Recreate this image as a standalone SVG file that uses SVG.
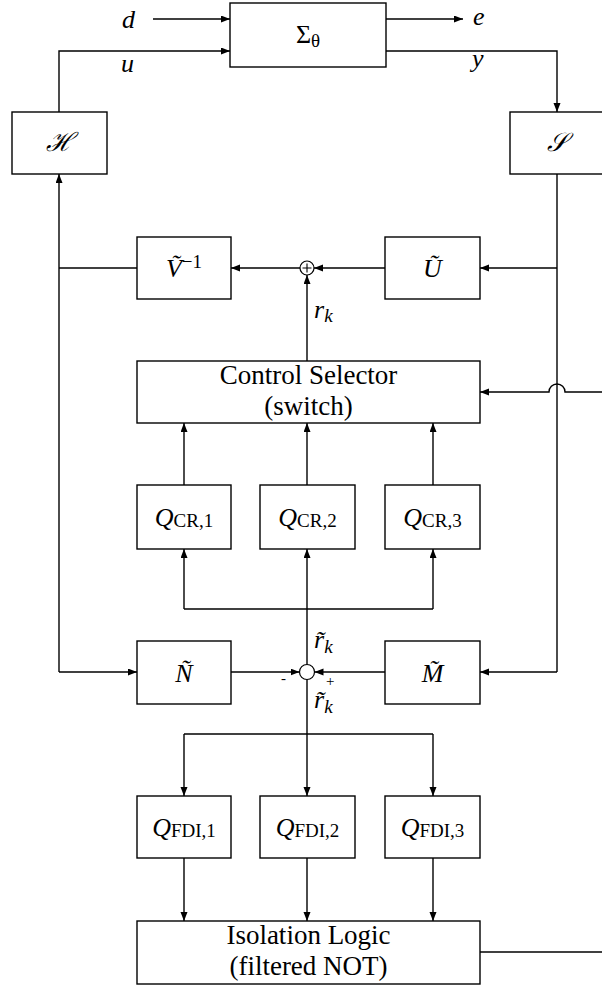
<svg xmlns="http://www.w3.org/2000/svg" width="602" height="987" viewBox="0 0 602 987">
<style>
.box{fill:#fff;stroke:#000;stroke-width:1.4}
.ln{fill:none;stroke:#000;stroke-width:1.4}
.arr{marker-end:url(#ah)}
text{font-family:'Liberation Serif','Times New Roman',serif;fill:#000}
.m{font-size:26px;font-style:italic}
.t{font-size:27px}
.sub{font-size:19px;font-style:normal}
.subi{font-size:19px;font-style:italic}
.sg{font-size:15px}
</style>
<defs>
<marker id="ah" markerUnits="userSpaceOnUse" markerWidth="10" markerHeight="8" refX="9" refY="3.5" orient="auto">
<path d="M0,0 L9,3.5 L0,7 z" fill="#000"/>
</marker>
</defs>
<g id="connectors">
<path class="ln arr" d="M153,19 H230"/>
<path class="ln arr" d="M59,112 V51 H230"/>
<path class="ln arr" d="M386,19 H463"/>
<path class="ln arr" d="M386,51 H557 V112"/>
<path class="ln arr" d="M59,672 V174"/>
<path class="ln arr" d="M59,672 H137"/>
<path class="ln" d="M59,268 H137"/>
<path class="ln arr" d="M300,268 H231"/>
<path class="ln arr" d="M385,268 H314"/>
<path class="ln arr" d="M557,268 H480"/>
<path class="ln arr" d="M307,361 V275"/>
<path class="ln" d="M557,174 V672"/>
<path class="ln arr" d="M557,672 H480"/>
<path class="ln arr" d="M602,392 H565 A8,8 0 0 0 549,392 H480"/>
<path class="ln arr" d="M184,485 V423"/>
<path class="ln arr" d="M307,485 V423"/>
<path class="ln arr" d="M433,485 V423"/>
<path class="ln" d="M184,609 H433"/>
<path class="ln arr" d="M184,609 V549"/>
<path class="ln arr" d="M307,664.5 V549"/>
<path class="ln arr" d="M433,609 V549"/>
<path class="ln arr" d="M231,672 H299.5"/>
<path class="ln arr" d="M385,672 H314.5"/>
<path class="ln arr" d="M307,679.5 V796"/>
<path class="ln" d="M184,734 H433"/>
<path class="ln arr" d="M184,734 V796"/>
<path class="ln arr" d="M433,734 V796"/>
<path class="ln arr" d="M184,858 V921"/>
<path class="ln arr" d="M307,858 V921"/>
<path class="ln arr" d="M433,858 V921"/>
<path class="ln" d="M480,952 H602"/>
</g>
<g id="labels">
<text class="m" x="122" y="28">d</text>
<text class="m" x="121" y="72">u</text>
<text class="m" x="473" y="25">e</text>
<text class="m" x="472" y="67">y</text>
<text class="m" x="314" y="318">r<tspan class="subi" dy="4">k</tspan></text>
<text class="m" x="314" y="648">r̃<tspan class="subi" dy="5">k</tspan></text>
<text class="m" x="314" y="708">r̃<tspan class="subi" dy="5">k</tspan></text>
<text class="sg" x="281" y="683">-</text>
<text class="sg" x="326" y="686">+</text>
</g>
<g id="sigma"><rect class="box" x="230" y="3" width="156" height="64"/>
<text x="308" y="43" text-anchor="middle" font-size="26">Σ<tspan class="sub" dy="4">θ</tspan></text></g>
<g id="H"><rect class="box" x="12" y="112" width="95" height="62"/>
<text class="m" x="59.5" y="151" text-anchor="middle" font-family="DejaVu Serif,serif" font-size="21">ℋ</text></g>
<g id="S"><rect class="box" x="510" y="112" width="94" height="62"/>
<text class="m" x="557" y="151" text-anchor="middle" font-family="DejaVu Serif,serif" font-size="21">𝒮</text></g>
<g id="Vinv"><rect class="box" x="137" y="237" width="94" height="62"/>
<text class="m" x="184" y="277" text-anchor="middle">Ṽ<tspan class="sub" dy="-9">−1</tspan></text></g>
<g id="sum1"><circle cx="307" cy="268" r="7" fill="#fff" stroke="#000" stroke-width="1.2"/>
<path d="M302.5,268 H311.5 M307,263.5 V272.5" stroke="#000" stroke-width="1.1"/></g>
<g id="U"><rect class="box" x="385" y="237" width="95" height="62"/>
<text class="m" x="432.5" y="277" text-anchor="middle">Ũ</text></g>
<g id="CS"><rect class="box" x="137" y="361" width="343" height="62"/>
<text class="t" x="308.5" y="384" text-anchor="middle">Control Selector</text>
<text class="t" x="308.5" y="415" text-anchor="middle">(switch)</text></g>
<g id="QCR1"><rect class="box" x="137" y="485" width="94" height="64"/>
<text class="m" x="184" y="526" text-anchor="middle">Q<tspan class="sub" dy="1">CR,1</tspan></text></g>
<g id="QCR2"><rect class="box" x="260" y="485" width="95" height="64"/>
<text class="m" x="307.5" y="526" text-anchor="middle">Q<tspan class="sub" dy="1">CR,2</tspan></text></g>
<g id="QCR3"><rect class="box" x="385" y="485" width="95" height="64"/>
<text class="m" x="432.5" y="526" text-anchor="middle">Q<tspan class="sub" dy="1">CR,3</tspan></text></g>
<g id="N"><rect class="box" x="137" y="641" width="94" height="63"/>
<text class="m" x="184" y="682" text-anchor="middle">Ñ</text></g>
<g id="sum2"><circle cx="307" cy="672" r="7.5" fill="#fff" stroke="#000" stroke-width="1.2"/></g>
<g id="M"><rect class="box" x="385" y="641" width="95" height="63"/>
<text class="m" x="432.5" y="682" text-anchor="middle">M̃</text></g>
<g id="QFDI1"><rect class="box" x="137" y="796" width="94" height="62"/>
<text class="m" x="184" y="836" text-anchor="middle">Q<tspan class="sub" dy="1">FDI,1</tspan></text></g>
<g id="QFDI2"><rect class="box" x="260" y="796" width="95" height="62"/>
<text class="m" x="307.5" y="836" text-anchor="middle">Q<tspan class="sub" dy="1">FDI,2</tspan></text></g>
<g id="QFDI3"><rect class="box" x="385" y="796" width="95" height="62"/>
<text class="m" x="432.5" y="836" text-anchor="middle">Q<tspan class="sub" dy="1">FDI,3</tspan></text></g>
<g id="IL"><rect class="box" x="137" y="921" width="343" height="63"/>
<text class="t" x="308.5" y="944" text-anchor="middle">Isolation Logic</text>
<text class="t" x="308.5" y="975" text-anchor="middle">(filtered NOT)</text></g>
</svg>
